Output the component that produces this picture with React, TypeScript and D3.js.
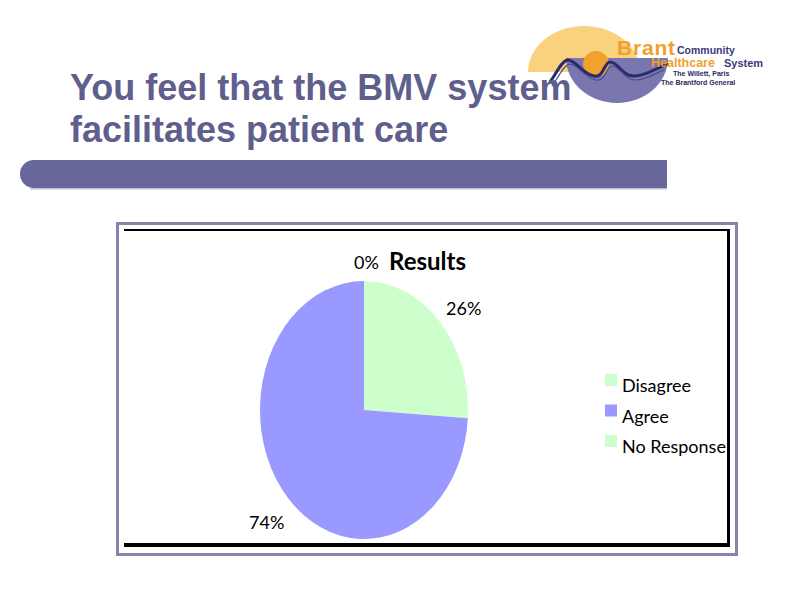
import React from "react";
import * as d3 from "d3";

const categories = ["Disagree", "Agree", "No Response"];
const values = [26, 74, 0];
const colors = ["#ccffcc", "#9999ff", "#ccffcc"];
const labels = ["26%", "74%", "0%"];
const titleLines = ["You feel that the BMV system", "facilitates patient care"];
const chartTitle = "Results";

export default function App() {
  const cx = 364, cy = 410, rx = 104, ry = 129;
  const pie = d3.pie<number>().sort(null).value((d) => d);
  const arcs = pie(values);
  const arc = d3.arc<d3.PieArcDatum<number>>().innerRadius(0).outerRadius(1);
  const labelPos = [
    { x: 446, y: 315 },
    { x: 249, y: 529 },
    { x: 354, y: 269 },
  ];
  const font = "Lato, 'Open Sans', sans-serif";
  const bar = `M34,160 H667 V188 H34 A14,14 0 0 1 20,174 A14,14 0 0 1 34,160 Z`;
  return (
    <svg width={800} height={600} style={{ position: "absolute", left: 0, top: 0, background: "#fff" }}>
      {/* logo */}
      <g>
        <path d="M528,72 A56,46 0 0 1 640,72 Z" fill="#f8d27c" />
        <path d="M566,58 H668 A51,45 0 0 1 566,58 Z" fill="#7a76b0" />
        <circle cx={596} cy={64} r={13} fill="#f0a12e" />
        <path d="M550,82 C556,74 562,60 568,60 C576,60 582,74 594,76 C604,78 604,62 610,62 C618,62 622,76 634,76 C646,76 656,68 668,64"
          fill="none" stroke="#2a2a6a" strokeWidth={3} />
        <path d="M552,86 C558,78 564,64 570,64 C578,64 584,78 596,80 C606,82 606,66 612,66 C620,66 624,80 636,80 C646,80 654,74 664,70"
          fill="none" stroke="#4a4a8a" strokeWidth={1.2} />
        <text x={617} y={55} fontFamily="Arial, sans-serif" fontWeight="bold" fontSize={21} fill="#f0a12e" textLength={58}>Brant</text>
        <text x={677} y={54} fontFamily="Arial, sans-serif" fontWeight="bold" fontSize={10.5} fill="#3a3a7c">Community</text>
        <text x={651} y={67} fontFamily="Arial, sans-serif" fontWeight="bold" fontSize={12.5} fill="#f0a12e">Healthcare</text>
        <text x={724} y={67} fontFamily="Arial, sans-serif" fontWeight="bold" fontSize={11} fill="#3a3a7c">System</text>
        <text x={673} y={76} fontFamily="Arial, sans-serif" fontWeight="bold" fontSize={7} fill="#2a2a5a">The Willett, Paris</text>
        <text x={661} y={85} fontFamily="Arial, sans-serif" fontWeight="bold" fontSize={7} fill="#2a2a5a">The Brantford General</text>
      </g>
      {/* title */}
      {titleLines.map((t, i) => (
        <text key={i} x={70} y={100 + i * 42} fontFamily="'Liberation Sans', Arial, sans-serif" fontWeight="bold" fontSize={36} fill="#5f5f8e">{t}</text>
      ))}
      {/* bar */}
      <path d={bar} fill="#67679a" />
      <rect x={30} y={188} width={637} height={1.5} fill="#c0c0dc" />
      {/* frame */}
      <rect x={117.5} y={223.5} width={619} height={331} fill="#fff" stroke="#8585a8" strokeWidth={3} />
      <rect x={124} y={229} width={604} height={2} fill="#000" />
      <rect x={727} y={229} width={3} height={318} fill="#000" />
      <rect x={124} y={543} width={606} height={4} fill="#000" />
      {/* pie */}
      <g transform={`translate(${cx},${cy}) scale(${rx},${ry})`}>
        {arcs.map((a, i) => (
          <path key={i} d={arc(a) || ""} fill={colors[i]} />
        ))}
      </g>
      {labels.map((l, i) => (
        <text key={i} x={labelPos[i].x} y={labelPos[i].y} fontFamily={font} fontSize={18} fill="#000">{l}</text>
      ))}
      <text x={389} y={270} fontFamily={font} fontWeight="bold" fontSize={24} fill="#000">{chartTitle}</text>
      {/* legend */}
      {categories.map((c, i) => (
        <g key={c} transform={`translate(605,${374 + i * 30.5})`}>
          <rect x={0} y={0} width={12} height={12} fill={colors[i]} />
          <text x={17} y={18} fontFamily={font} fontSize={18} fill="#000">{c}</text>
        </g>
      ))}
    </svg>
  );
}
